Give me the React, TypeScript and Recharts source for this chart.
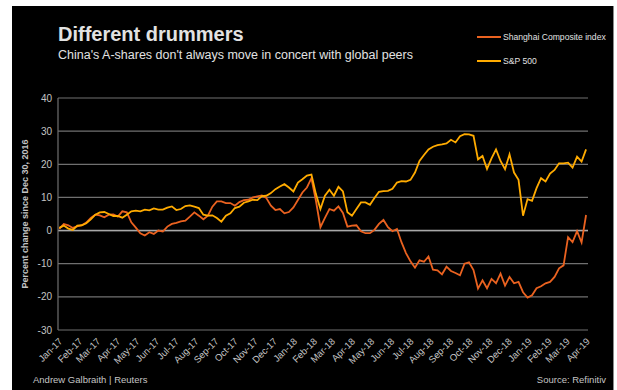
import React from 'react';
import { LineChart, Line, XAxis, YAxis, CartesianGrid, ReferenceLine } from 'recharts';

const PANEL = '#000000';
const GRID = '#707070';
const ZERO = '#a8a8a8';
const TEXT = '#e2e2e2';
const MUTED = '#c4c4c4';
const SHANGHAI = '#ea6220';
const SP500 = '#ffab00';
const FONT = '"Liberation Sans", Arial, Helvetica, sans-serif';

const monthLabels = [
  'Jan-17', 'Feb-17', 'Mar-17', 'Apr-17', 'May-17', 'Jun-17', 'Jul-17', 'Aug-17', 'Sep-17', 'Oct-17', 'Nov-17', 'Dec-17',
  'Jan-18', 'Feb-18', 'Mar-18', 'Apr-18', 'May-18', 'Jun-18', 'Jul-18', 'Aug-18', 'Sep-18', 'Oct-18', 'Nov-18', 'Dec-18',
  'Jan-19', 'Feb-19', 'Mar-19', 'Apr-19',
];

const yTicks = [-30, -20, -10, 0, 10, 20, 30, 40];

// weekly readings, % change since Dec 30, 2016
const shanghai = [
  0.5, 2.0, 1.6, 0.8, 1.3, 1.6, 2.4, 3.8, 4.8, 4.6,
  4.0, 4.8, 4.9, 4.2, 5.8, 5.5, 2.5, 0.9, -0.8, -1.5,
  -0.5, -1.0, 0.0, -0.3, 1.2, 2.0, 2.3, 2.8, 3.0, 4.2,
  5.5, 4.5, 3.4, 4.5, 7.2, 8.8, 8.8, 8.3, 8.3, 7.5,
  8.6, 9.2, 9.3, 10.0, 10.3, 10.6, 9.8, 7.5, 6.2, 6.5,
  5.2, 5.6, 7.0, 9.2, 11.5, 13.0, 15.8, 9.0, 1.0, 3.8,
  6.5, 6.0, 7.3, 5.3, 1.2, 1.5, 1.6, -0.2, -0.8, -0.8,
  0.2, 2.0, 3.2, 1.0, -0.2, 0.5, -3.5, -6.8, -9.3, -11.2,
  -9.0, -9.4, -7.8, -11.8, -12.0, -13.2, -10.9, -12.2, -12.8, -13.5,
  -10.0, -9.6, -11.9, -17.5, -15.0, -17.4, -14.6, -15.9, -13.0, -16.6,
  -14.0, -15.9, -15.5, -18.6, -20.2, -19.5, -17.4, -16.8, -15.9, -15.5,
  -14.0, -11.4, -10.5, -2.0, -3.5, -0.2, -3.6, 4.7,
];

const sp500 = [
  0.8, 1.5, 0.6, 0.2, 1.5, 1.6, 2.2, 3.4, 4.8, 5.5,
  5.6, 5.0, 4.4, 4.4, 3.9, 4.8, 5.8, 6.0, 5.8, 6.3,
  6.1, 6.7, 6.3, 6.3, 6.9, 7.3, 6.2, 6.5, 7.4, 7.6,
  7.2, 6.8, 4.8, 4.5, 4.6, 3.8, 2.7, 4.5, 5.2, 6.8,
  7.2, 8.4, 8.8, 9.3, 9.2, 10.4, 10.5, 11.3, 12.5, 13.3,
  14.0, 13.0, 11.8, 14.5, 15.5, 16.6, 16.9, 11.0, 6.5, 10.5,
  12.3, 10.5, 13.2, 11.8, 5.5, 4.5, 6.5, 8.5, 8.5, 7.8,
  9.8, 11.7, 11.9, 12.0, 12.6, 14.5, 14.9, 14.8, 15.3, 17.5,
  21.0, 22.8, 24.5, 25.3, 25.8, 26.0, 26.3, 27.4, 26.6, 28.5,
  29.1, 29.0, 28.6, 21.5, 22.5, 18.6, 21.8, 24.5, 21.0, 18.5,
  23.0, 17.5, 15.3, 4.5, 9.5, 9.0, 12.8, 15.8, 14.8, 17.2,
  18.3, 20.3, 20.3, 20.5, 19.0, 22.3, 20.8, 24.5,
];

const DAY = 86400000;
const START = Date.UTC(2017, 0, 1);
const monthTicks = monthLabels.map((_, i) => (Date.UTC(2017, i, 1) - START) / DAY);

// one reading per week, first trading day Jan 3, 2017
const data = shanghai.map((v, i) => ({ day: 2 + i * 7, shanghai: v, sp500: sp500[i] }));

function MonthTick({ x, y, payload }: any) {
  const label = monthLabels[monthTicks.indexOf(payload.value)];
  const tx = x + 5;
  const ty = y + 4;
  return (
    <text x={tx} y={ty} transform={`rotate(-45 ${tx} ${ty})`} textAnchor="end" fontSize={9.5}
      fill={MUTED} fontFamily={FONT}>
      {label}
    </text>
  );
}

function LegendItem({ top, color, label }: { top: number; color: string; label: string }) {
  return (
    <div style={{ position: 'absolute', left: 477, top, display: 'flex', alignItems: 'center' }}>
      <div style={{ width: 24, height: 2, background: color, marginRight: 2 }} />
      <span style={{ fontSize: 8.6, color: TEXT, whiteSpace: 'nowrap' }}>{label}</span>
    </div>
  );
}

export default function App() {
  return (
    <div style={{ position: 'relative', width: 617, height: 390, background: '#fff', fontFamily: FONT, overflow: 'hidden' }}>
      <style>{'body{margin:0}'}</style>
      <div style={{ position: 'absolute', left: 12, top: 6, width: 601, height: 384, background: PANEL, borderRight: '1px solid #8a8a8a' }} />

      <div style={{ position: 'absolute', left: 58, top: 23, fontSize: 20, fontWeight: 700, color: TEXT, whiteSpace: 'nowrap' }}>
        Different drummers
      </div>
      <div style={{ position: 'absolute', left: 58, top: 48, fontSize: 12.5, color: TEXT, whiteSpace: 'nowrap' }}>
        China's A-shares don't always move in concert with global peers
      </div>

      <LegendItem top={32} color={SHANGHAI} label="Shanghai Composite index" />
      <LegendItem top={56} color={SP500} label="S&P 500" />

      <div style={{
        position: 'absolute', left: 25, top: 214, transform: 'translate(-50%, -50%) rotate(-90deg)',
        fontSize: 9, fontWeight: 700, color: MUTED, whiteSpace: 'nowrap',
      }}>
        Percent change since Dec 30, 2016
      </div>

      <div style={{ position: 'absolute', left: 33, top: 374, fontSize: 9.5, color: MUTED, whiteSpace: 'nowrap' }}>
        Andrew Galbraith | Reuters
      </div>
      <div style={{ position: 'absolute', right: 11, top: 374, fontSize: 9.5, color: MUTED, whiteSpace: 'nowrap' }}>
        Source: Refinitiv
      </div>

      <div style={{ position: 'absolute', left: 0, top: 0 }}>
        <LineChart width={617} height={390} data={data} margin={{ top: 98, right: 29, bottom: 10, left: 0 }}>
          <CartesianGrid horizontal vertical={false} stroke={GRID} strokeWidth={1.2} />
          <XAxis dataKey="day" type="number" domain={[0, 824]} ticks={monthTicks} interval={0}
            tick={<MonthTick />} tickLine={false} axisLine={false} height={50} allowDataOverflow />
          <YAxis type="number" domain={[-30, 40]} ticks={yTicks} width={58} tickLine={false} tickSize={4} tickMargin={2}
            axisLine={{ stroke: GRID, strokeWidth: 1.2 }} tick={{ fontSize: 10, fill: MUTED, fontFamily: FONT }} />
          <ReferenceLine y={0} stroke={ZERO} strokeWidth={1.5} />
          <Line type="linear" dataKey="shanghai" stroke={SHANGHAI} strokeWidth={1.8} dot={false} isAnimationActive={false} />
          <Line type="linear" dataKey="sp500" stroke={SP500} strokeWidth={1.8} dot={false} isAnimationActive={false} />
        </LineChart>
      </div>
    </div>
  );
}
